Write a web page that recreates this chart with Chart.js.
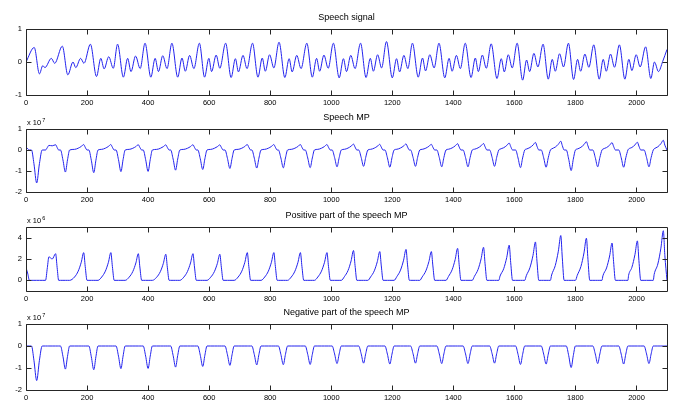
<!DOCTYPE html>
<html>
<head>
<meta charset="utf-8">
<script src="https://cdn.jsdelivr.net/npm/chart.js@4.4.1/dist/chart.umd.min.js"></script>
<style>
html, body { margin: 0; padding: 0; background: #fff; }
#wrap { position: relative; width: 685px; height: 417px; }
#wrap canvas { position: absolute; left: 0; top: 0; }
</style>
</head>
<body>
<div id="wrap">
  <canvas id="c1" width="685" height="417"></canvas>
  <canvas id="c2" width="685" height="417"></canvas>
  <canvas id="c3" width="685" height="417"></canvas>
  <canvas id="c4" width="685" height="417"></canvas>
</div>
<script>
// tick labels
var xTicks = [0, 200, 400, 600, 800, 1000, 1200, 1400, 1600, 1800, 2000];
var yTicksSpeech = [-1, 0, 1];
var yTicksMP = [-2, -1, 0, 1];
var yTicksPos = [0, 2, 4];
var yTicksNeg = [-2, -1, 0, 1];

// speech signal, turning points (sample, amplitude)
var speechX = [
  0, 27, 44, 55, 62, 83, 94,
  119, 137, 154, 163, 179, 190,
  211, 231, 245, 256, 271, 286,
  300, 319, 333, 344, 359, 374,
  390, 409, 423, 434, 448, 462,
  478, 497, 511, 522, 536, 550,
  568, 585, 599, 608, 623, 635,
  654, 672, 686, 696, 711, 724,
  742, 760, 774, 784, 798, 812,
  829, 848, 862, 872, 887, 901,
  920, 938, 952, 962, 976, 990,
  1007, 1026, 1040, 1050, 1064, 1078,
  1096, 1114, 1128, 1138, 1152, 1165,
  1181, 1200, 1214, 1224, 1238, 1251,
  1266, 1285, 1299, 1309, 1323, 1337,
  1353, 1372, 1386, 1396, 1410, 1423,
  1439, 1458, 1472, 1482, 1495, 1508,
  1524, 1543, 1557, 1567, 1580, 1593,
  1609, 1627, 1640, 1650, 1664, 1677,
  1694, 1711, 1724, 1734, 1748, 1761,
  1777, 1794, 1807, 1817, 1831, 1844,
  1860, 1878, 1891, 1901, 1915, 1928,
  1944, 1962, 1975, 1985, 1999, 2012,
  2030, 2047, 2059, 2072, 2086, 2100
];
var speechY = [
  0.00, 0.44, -0.36, -0.11, -0.17, 0.11, -0.04,
  0.48, -0.39, 0.00, -0.17, 0.11, -0.04,
  0.54, -0.44, 0.11, -0.21, 0.16, -0.19,
  0.54, -0.46, 0.11, -0.29, 0.18, -0.20,
  0.57, -0.46, 0.11, -0.29, 0.19, -0.20,
  0.57, -0.46, 0.12, -0.28, 0.20, -0.20,
  0.57, -0.46, 0.11, -0.29, 0.21, -0.19,
  0.57, -0.47, 0.10, -0.30, 0.20, -0.20,
  0.57, -0.46, 0.12, -0.28, 0.22, -0.18,
  0.60, -0.47, 0.10, -0.30, 0.20, -0.20,
  0.57, -0.46, 0.11, -0.28, 0.21, -0.19,
  0.57, -0.48, 0.10, -0.29, 0.20, -0.20,
  0.57, -0.47, 0.11, -0.28, 0.22, -0.18,
  0.62, -0.48, 0.10, -0.30, 0.20, -0.20,
  0.57, -0.46, 0.12, -0.27, 0.22, -0.18,
  0.57, -0.48, 0.11, -0.28, 0.20, -0.20,
  0.57, -0.47, 0.12, -0.29, 0.21, -0.19,
  0.55, -0.50, 0.10, -0.30, 0.22, -0.18,
  0.57, -0.55, 0.06, -0.29, 0.26, -0.15,
  0.54, -0.52, 0.08, -0.28, 0.25, -0.15,
  0.57, -0.53, 0.08, -0.28, 0.24, -0.16,
  0.52, -0.52, 0.08, -0.28, 0.24, -0.16,
  0.52, -0.52, 0.08, -0.26, 0.22, -0.15,
  0.46, -0.50, 0.00, -0.29, 0.02, 0.38
];

// MP samples: one row per pitch period (trough, then positive pulse)
var mpX = [
  0, 6, 11,
  18, 26, 35, 44, 53, 64, 70, 75, 86, 97, 102, 107,
  113, 121, 129, 136, 143, 159, 171, 181, 189, 194, 200,
  206, 214, 222, 229, 236, 248, 260, 270, 278, 283, 289,
  295, 303, 311, 318, 325, 338, 350, 360, 368, 373, 379,
  384, 392, 400, 407, 414, 428, 440, 450, 458, 463, 469,
  474, 482, 490, 497, 504, 517, 529, 539, 547, 552, 558,
  563, 571, 579, 586, 593, 605, 617, 627, 635, 640, 646,
  652, 660, 668, 675, 682, 695, 707, 717, 725, 730, 736,
  740, 748, 756, 763, 770, 782, 794, 804, 812, 817, 823,
  827, 835, 843, 850, 857, 869, 881, 891, 899, 904, 910,
  915, 923, 931, 938, 945, 956, 968, 978, 986, 991, 997,
  1003, 1011, 1019, 1026, 1033, 1043, 1055, 1065, 1073, 1078, 1084,
  1090, 1098, 1106, 1113, 1120, 1129, 1141, 1151, 1159, 1164, 1170,
  1176, 1184, 1192, 1199, 1206, 1215, 1227, 1237, 1245, 1250, 1256,
  1260, 1268, 1276, 1283, 1290, 1298, 1310, 1320, 1328, 1333, 1339,
  1346, 1354, 1362, 1369, 1376, 1384, 1396, 1406, 1414, 1419, 1425,
  1432, 1440, 1448, 1455, 1462, 1469, 1481, 1491, 1499, 1504, 1510,
  1519, 1527, 1535, 1542, 1549, 1553, 1565, 1575, 1583, 1588, 1594,
  1604, 1612, 1620, 1627, 1634, 1639, 1651, 1661, 1669, 1674, 1680,
  1688, 1696, 1704, 1711, 1718, 1722, 1734, 1744, 1752, 1757, 1763,
  1770, 1778, 1786, 1793, 1800, 1806, 1818, 1828, 1836, 1841, 1847,
  1857, 1865, 1873, 1880, 1887, 1890, 1902, 1912, 1920, 1925, 1931,
  1942, 1950, 1958, 1965, 1972, 1974, 1985, 1995, 2003, 2008, 2014,
  2025, 2033, 2041, 2048, 2055, 2058, 2070, 2080, 2088, 2093, 2100
];
// speech MP, x 10^7
var mpY = [
  0.12, 0.06, 0,
  0, -0.65, -1.57, -0.65, 0, 0, 0.12, 0.22, 0.20, 0.25, 0.12, 0,
  0, -0.47, -1.05, -0.47, 0, 0.031, 0.086, 0.169, 0.26, 0.13, 0,
  0, -0.49, -1.08, -0.49, 0, 0.031, 0.086, 0.169, 0.26, 0.13, 0,
  0, -0.46, -1.03, -0.46, 0, 0.030, 0.083, 0.163, 0.25, 0.125, 0,
  0, -0.46, -1.02, -0.46, 0, 0.029, 0.081, 0.159, 0.245, 0.123, 0,
  0, -0.43, -0.96, -0.43, 0, 0.030, 0.083, 0.163, 0.25, 0.125, 0,
  0, -0.42, -0.93, -0.42, 0, 0.029, 0.081, 0.159, 0.245, 0.123, 0,
  0, -0.40, -0.88, -0.40, 0, 0.031, 0.086, 0.169, 0.26, 0.13, 0,
  0, -0.39, -0.86, -0.39, 0, 0.031, 0.086, 0.169, 0.26, 0.13, 0,
  0, -0.38, -0.85, -0.38, 0, 0.031, 0.086, 0.169, 0.26, 0.13, 0,
  0, -0.38, -0.84, -0.38, 0, 0.031, 0.086, 0.169, 0.26, 0.13, 0,
  0, -0.36, -0.80, -0.36, 0, 0.034, 0.092, 0.182, 0.28, 0.14, 0,
  0, -0.35, -0.78, -0.35, 0, 0.032, 0.089, 0.176, 0.27, 0.135, 0,
  0, -0.37, -0.82, -0.37, 0, 0.035, 0.096, 0.189, 0.29, 0.145, 0,
  0, -0.35, -0.78, -0.35, 0, 0.032, 0.089, 0.176, 0.27, 0.135, 0,
  0, -0.36, -0.80, -0.36, 0, 0.036, 0.099, 0.195, 0.30, 0.15, 0,
  0, -0.36, -0.80, -0.36, 0, 0.037, 0.102, 0.202, 0.31, 0.155, 0,
  0, -0.35, -0.78, -0.35, 0, 0.040, 0.109, 0.215, 0.33, 0.165, 0,
  0, -0.38, -0.84, -0.38, 0, 0.043, 0.119, 0.234, 0.36, 0.18, 0,
  0, -0.37, -0.82, -0.37, 0, 0.050, 0.139, 0.273, 0.42, 0.21, 0,
  0, -0.44, -0.98, -0.44, 0, 0.047, 0.130, 0.257, 0.395, 0.198, 0,
  0, -0.36, -0.80, -0.36, 0, 0.042, 0.116, 0.228, 0.35, 0.175, 0,
  0, -0.37, -0.82, -0.37, 0, 0.044, 0.122, 0.241, 0.37, 0.185, 0,
  0, -0.36, -0.80, -0.36, 0, 0.056, 0.153, 0.302, 0.465, 0.23, 0
];
// positive part, x 10^6
var posY = [
  1.2, 0.6, 0,
  0, 0, 0, 0, 0, 0, 1.2, 2.2, 2.0, 2.5, 1.2, 0,
  0, 0, 0, 0, 0, 0.31, 0.86, 1.69, 2.6, 1.3, 0,
  0, 0, 0, 0, 0, 0.31, 0.86, 1.69, 2.6, 1.3, 0,
  0, 0, 0, 0, 0, 0.30, 0.83, 1.63, 2.5, 1.25, 0,
  0, 0, 0, 0, 0, 0.29, 0.81, 1.59, 2.45, 1.23, 0,
  0, 0, 0, 0, 0, 0.30, 0.83, 1.63, 2.5, 1.25, 0,
  0, 0, 0, 0, 0, 0.29, 0.81, 1.59, 2.45, 1.23, 0,
  0, 0, 0, 0, 0, 0.31, 0.86, 1.69, 2.6, 1.3, 0,
  0, 0, 0, 0, 0, 0.31, 0.86, 1.69, 2.6, 1.3, 0,
  0, 0, 0, 0, 0, 0.31, 0.86, 1.69, 2.6, 1.3, 0,
  0, 0, 0, 0, 0, 0.31, 0.86, 1.69, 2.6, 1.3, 0,
  0, 0, 0, 0, 0, 0.34, 0.92, 1.82, 2.8, 1.4, 0,
  0, 0, 0, 0, 0, 0.32, 0.89, 1.76, 2.7, 1.35, 0,
  0, 0, 0, 0, 0, 0.35, 0.96, 1.89, 2.9, 1.45, 0,
  0, 0, 0, 0, 0, 0.32, 0.89, 1.76, 2.7, 1.35, 0,
  0, 0, 0, 0, 0, 0.36, 0.99, 1.95, 3.0, 1.5, 0,
  0, 0, 0, 0, 0, 0.37, 1.02, 2.02, 3.1, 1.55, 0,
  0, 0, 0, 0, 0, 0.40, 1.09, 2.15, 3.3, 1.65, 0,
  0, 0, 0, 0, 0, 0.43, 1.19, 2.34, 3.6, 1.8, 0,
  0, 0, 0, 0, 0, 0.50, 1.39, 2.73, 4.2, 2.1, 0,
  0, 0, 0, 0, 0, 0.47, 1.30, 2.57, 3.95, 1.98, 0,
  0, 0, 0, 0, 0, 0.42, 1.16, 2.28, 3.5, 1.75, 0,
  0, 0, 0, 0, 0, 0.44, 1.22, 2.41, 3.7, 1.85, 0,
  0, 0, 0, 0, 0, 0.56, 1.53, 3.02, 4.65, 2.3, 0
];
// negative part, x 10^7
var negY = [
  0, 0, 0,
  0, -0.65, -1.57, -0.65, 0, 0, 0, 0, 0, 0, 0, 0,
  0, -0.47, -1.05, -0.47, 0, 0, 0, 0, 0, 0, 0,
  0, -0.49, -1.08, -0.49, 0, 0, 0, 0, 0, 0, 0,
  0, -0.46, -1.03, -0.46, 0, 0, 0, 0, 0, 0, 0,
  0, -0.46, -1.02, -0.46, 0, 0, 0, 0, 0, 0, 0,
  0, -0.43, -0.96, -0.43, 0, 0, 0, 0, 0, 0, 0,
  0, -0.42, -0.93, -0.42, 0, 0, 0, 0, 0, 0, 0,
  0, -0.40, -0.88, -0.40, 0, 0, 0, 0, 0, 0, 0,
  0, -0.39, -0.86, -0.39, 0, 0, 0, 0, 0, 0, 0,
  0, -0.38, -0.85, -0.38, 0, 0, 0, 0, 0, 0, 0,
  0, -0.38, -0.84, -0.38, 0, 0, 0, 0, 0, 0, 0,
  0, -0.36, -0.80, -0.36, 0, 0, 0, 0, 0, 0, 0,
  0, -0.35, -0.78, -0.35, 0, 0, 0, 0, 0, 0, 0,
  0, -0.37, -0.82, -0.37, 0, 0, 0, 0, 0, 0, 0,
  0, -0.35, -0.78, -0.35, 0, 0, 0, 0, 0, 0, 0,
  0, -0.36, -0.80, -0.36, 0, 0, 0, 0, 0, 0, 0,
  0, -0.36, -0.80, -0.36, 0, 0, 0, 0, 0, 0, 0,
  0, -0.35, -0.78, -0.35, 0, 0, 0, 0, 0, 0, 0,
  0, -0.38, -0.84, -0.38, 0, 0, 0, 0, 0, 0, 0,
  0, -0.37, -0.82, -0.37, 0, 0, 0, 0, 0, 0, 0,
  0, -0.44, -0.98, -0.44, 0, 0, 0, 0, 0, 0, 0,
  0, -0.36, -0.80, -0.36, 0, 0, 0, 0, 0, 0, 0,
  0, -0.37, -0.82, -0.37, 0, 0, 0, 0, 0, 0, 0,
  0, -0.36, -0.80, -0.36, 0, 0, 0, 0, 0, 0, 0
];

Chart.defaults.font.family = '"Liberation Sans", Arial, sans-serif';
Chart.defaults.color = '#000';

// box, inward ticks, title and exponent label (matlab look)
var frame = {
  id: 'frame',
  afterDraw: function(chart, args, opts) {
    var ctx = chart.ctx, a = chart.chartArea;
    var x = chart.scales.x, y = chart.scales.y;
    var L = Math.round(a.left) + 0.5, R = Math.round(a.right) + 0.5;
    var T = Math.round(a.top) + 0.5, B = Math.round(a.bottom) + 0.5;
    ctx.save();
    ctx.strokeStyle = '#262626';
    ctx.lineWidth = 1;
    ctx.beginPath();
    ctx.rect(L, T, R - L, B - T);
    x.ticks.forEach(function(t) {
      var px = Math.round(x.getPixelForValue(t.value)) + 0.5;
      ctx.moveTo(px, T); ctx.lineTo(px, T + 5);
      ctx.moveTo(px, B); ctx.lineTo(px, B - 5);
    });
    y.ticks.forEach(function(t) {
      var py = Math.round(y.getPixelForValue(t.value)) + 0.5;
      ctx.moveTo(L, py); ctx.lineTo(L + 5, py);
      ctx.moveTo(R, py); ctx.lineTo(R - 5, py);
    });
    ctx.stroke();

    ctx.fillStyle = '#000';
    ctx.textBaseline = 'middle';
    ctx.textAlign = 'center';
    ctx.font = '9px "Liberation Sans", Arial, sans-serif';
    ctx.fillText(opts.title, (a.left + a.right) / 2, a.top - 11);
    if (opts.exp) {
      ctx.textAlign = 'left';
      ctx.font = '7.5px "Liberation Sans", Arial, sans-serif';
      ctx.fillText('x 10', a.left + 1, a.top - 6);
      var w = ctx.measureText('x 10').width;
      ctx.font = '5.5px "Liberation Sans", Arial, sans-serif';
      ctx.fillText(opts.exp, a.left + 2 + w, a.top - 9);
    }
    ctx.restore();
  }
};

function makeChart(id, xs, ys, yMin, yMax, yTicks, title, exp, top, bottom) {
  var pts = [];
  for (var i = 0; i < xs.length; i++) {
    pts.push({x: xs[i], y: ys[i]});
  }
  return new Chart(document.getElementById(id), {
    type: 'line',
    data: {
      datasets: [{
        data: pts,
        borderColor: '#2222ee',
        borderWidth: 1,
        pointRadius: 0,
        fill: false,
        cubicInterpolationMode: 'monotone'
      }]
    },
    options: {
      responsive: false,
      animation: false,
      devicePixelRatio: 1,
      events: [],
      layout: {
        autoPadding: false,
        padding: {left: 0, right: 18, top: top, bottom: 417 - bottom - 12}
      },
      plugins: {
        legend: {display: false},
        tooltip: {enabled: false},
        frame: {title: title, exp: exp}
      },
      scales: {
        x: {
          type: 'linear',
          min: 0,
          max: 2100,
          afterBuildTicks: function(s) { s.ticks = xTicks.map(function(v) { return {value: v}; }); },
          afterFit: function(s) { s.height = 12; },
          grid: {display: false, drawTicks: false},
          border: {display: false},
          ticks: {padding: 3, autoSkip: false, maxRotation: 0, font: {size: 7.5},
                  callback: function(v) { return String(v); }}
        },
        y: {
          min: yMin,
          max: yMax,
          afterBuildTicks: function(s) { s.ticks = yTicks.map(function(v) { return {value: v}; }); },
          afterFit: function(s) { s.width = 26; },
          grid: {display: false, drawTicks: false},
          border: {display: false},
          ticks: {padding: 4, font: {size: 7.5},
                  callback: function(v) { return String(v); }}
        }
      }
    },
    plugins: [frame]
  });
}

makeChart('c1', speechX, speechY, -1, 1, yTicksSpeech, 'Speech signal', null, 29, 95);
makeChart('c2', mpX, mpY, -2, 1, yTicksMP, 'Speech MP', '7', 129, 192);
makeChart('c3', mpX, posY, -1, 5, yTicksPos, 'Positive part of the speech MP', '6', 227, 291);
makeChart('c4', mpX, negY, -2, 1, yTicksNeg, 'Negative part of the speech MP', '7', 324, 390);
</script>
</body>
</html>
